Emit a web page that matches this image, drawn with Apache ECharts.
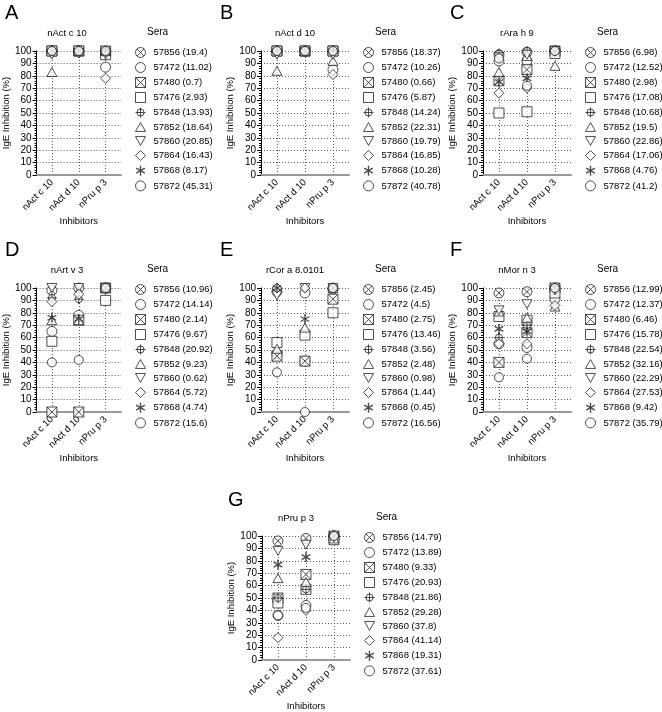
<!DOCTYPE html>
<html lang="en">
<head>
<meta charset="UTF-8">
<title>IgE inhibition</title>
<script src="https://cdn.jsdelivr.net/npm/echarts@6/dist/echarts.min.js"></script>
<style>
  html, body { margin: 0; padding: 0; background: #fff; }
  #main { width: 662px; height: 712px; }
</style>
</head>
<body>
<div id="main"></div>
<script>
// inhibitors on the x axis (same for every panel)
const inhibitors = ['nAct c 10', 'nAct d 10', 'nPru p 3'];
// sera (legend order)
const sera = ['57856', '57472', '57480', '57476', '57848', '57852', '57860', '57864', '57868', '57872'];

const panelLetters = ['A', 'B', 'C', 'D', 'E', 'F', 'G'];
const panelTitles = ['nAct c 10', 'nAct d 10', 'rAra h 9', 'nArt v 3', 'rCor a 8.0101', 'nMor n 3', 'nPru p 3'];

// specific IgE shown in legend brackets, per panel
const igeA = [19.4, 11.02, 0.7, 2.93, 13.93, 18.64, 20.85, 16.43, 8.17, 45.31];
const igeB = [18.37, 10.26, 0.66, 5.87, 14.24, 22.31, 19.79, 16.85, 10.28, 40.78];
const igeC = [6.98, 12.52, 2.98, 17.08, 10.68, 19.5, 22.86, 17.06, 4.76, 41.2];
const igeD = [10.96, 14.14, 2.14, 9.67, 20.92, 9.23, 0.62, 5.72, 4.74, 15.6];
const igeE = [2.45, 4.5, 2.75, 13.46, 3.56, 2.48, 0.98, 1.44, 0.45, 16.56];
const igeF = [12.99, 12.37, 6.46, 15.78, 22.54, 32.16, 22.29, 27.53, 9.42, 35.79];
const igeG = [14.79, 13.89, 9.33, 20.93, 21.86, 29.28, 37.8, 41.14, 19.31, 37.61];

// % inhibition: one row per serum, columns = inhibitors
const valuesA = [[100,100,100],[100,100,87],[100,100,100],[100,100,97],[100,100,100],
                 [83,100,100],[97,98,97],[100,100,78],[100,100,99],[100,100,100]];
const valuesB = [[100,100,100],[100,100,85],[100,100,100],[100,100,100],[100,100,100],
                 [84,100,92],[97,99,97],[100,100,81],[100,100,100],[100,100,100]];
const valuesC = [[97,99,100],[92,92,100],[76,85,100],[50,51,98],[98,100,100],
                 [83,96,88],[95,97,100],[66,70,100],[75,78,100],[94,72,100]];
const valuesD = [[98,100,100],[65,78,100],[0,0,100],[57,74,90],[92,91,100],
                 [74,74,100],[100,100,100],[89,95,100],[76,75,100],[40,42,100]];
const valuesE = [[47,41,100],[97,96,99],[45,41,91],[56,62,80],[100,100,100],
                 [51,68,100],[94,100,100],[100,100,100],[100,75,100],[32,0,100]];
const valuesF = [[96,97,100],[55,52,91],[40,64,100],[77,74,96],[60,70,100],
                 [81,76,85],[82,87,98],[55,55,86],[67,65,100],[28,43,100]];
const valuesG = [[96,98,100],[36,44,100],[50,69,100],[46,57,97],[50,57,100],
                 [66,63,98],[88,93,99],[18,40,100],[77,83,100],[36,42,100]];

const igeAll = [igeA, igeB, igeC, igeD, igeE, igeF, igeG];
const valuesAll = [valuesA, valuesB, valuesC, valuesD, valuesE, valuesF, valuesG];

// layout: y axis x position and top of each plot
const axisX = [33, 261, 483, 33, 261, 483, 262];
const plotTop = [51, 51, 51, 288, 288, 288, 536];
const plotW = 88, plotH = 124;

// symbols drawn in a 9x9 box so the stroke is hardly scaled
const serumSymbols = [
  'path://M4.5,0A4.5,4.5,0,1,1,4.49,0ZM1.3,1.3L7.7,7.7M7.7,1.3L1.3,7.7',
  'path://M4.5,0A4.5,4.5,0,1,1,4.49,0Z',
  'path://M0,0H9V9H0ZM0,0L9,9M9,0L0,9',
  'path://M0,0H9V9H0Z',
  'path://M4.5,1.3A3.2,3.2,0,1,1,4.49,1.3ZM4.5,0V9M0,4.5H9',
  'path://M4.5,0.5L9,8.5L0,8.5Z',
  'path://M0,0.5H9L4.5,8.5Z',
  'path://M4.5,0L9,4.5L4.5,9L0,4.5Z',
  'path://M4.5,0V9M0.6,2.25L8.4,6.75M8.4,2.25L0.6,6.75',
  'path://M4.5,0A4.5,4.5,0,1,1,4.49,0Z'
];
const markStyle = i => ({ color: '#fff', borderColor: '#222', borderWidth: i === 8 ? 1.4 : 1 });

const chart = echarts.init(document.getElementById('main'));

const grid = [], xAxis = [], yAxis = [], legend = [], series = [], graphic = [];
const dotted = { color: '#555', type: [1, 2], width: 1 };

panelTitles.forEach((t, k) => {
  grid.push({ left: axisX[k], top: plotTop[k], width: plotW, height: plotH });
  xAxis.push({
    type: 'value', gridIndex: k, min: 0.43, max: 0.43 + plotW / 28,
    name: 'Inhibitors', nameLocation: 'middle', nameGap: 40,
    nameTextStyle: { fontSize: 9.5, color: '#000' },
    axisLine: { show: true, lineStyle: { color: '#999', width: 2 } },
    axisTick: { show: false, customValues: [1, 2, 3] },
    axisLabel: { customValues: [1, 2, 3], rotate: 45, fontSize: 9.5, color: '#000', margin: 6,
                 formatter: v => inhibitors[Math.round(v) - 1] },
    splitLine: { show: true, lineStyle: dotted }
  });
  yAxis.push({
    type: 'value', gridIndex: k, min: 0, max: 100, interval: 10,
    name: 'IgE Inhibition (%)', nameLocation: 'middle', nameGap: 23,
    nameTextStyle: { fontSize: 9.5, color: '#000' },
    axisLine: { show: true, lineStyle: { color: '#000', width: 1 } },
    axisTick: { show: true, length: 4, lineStyle: { color: '#000' } },
    minorTick: { show: true, splitNumber: 5, length: 2, lineStyle: { color: '#000' } },
    axisLabel: { fontSize: 10, color: '#000', margin: 5 },
    splitLine: { show: true, lineStyle: dotted }
  });

  const names = sera.map((s, i) => s + ' (' + igeAll[k][i] + ')');
  legend.push({
    orient: 'vertical', left: axisX[k] + 102, top: plotTop[k] - 4, padding: 0,
    itemWidth: 10, itemHeight: 10, itemGap: 4, selectedMode: false,
    textStyle: { fontSize: 9.5, color: '#000', padding: [0, 0, 0, 3] },
    data: names.map((n, i) => ({ name: n, itemStyle: markStyle(i) }))
  });

  sera.forEach((s, i) => {
    series.push({
      type: 'scatter', name: names[i], xAxisIndex: k, yAxisIndex: k,
      symbol: serumSymbols[i], symbolSize: i === 9 ? 9 : 10, symbolKeepAspect: true,
      itemStyle: markStyle(i),
      data: valuesAll[k][i].map((v, j) => [j + 1, v])
    });
  });

  graphic.push(
    { type: 'text', x: axisX[k] + 34, y: plotTop[k] - 18,
      style: { text: t, fontSize: 9.5, fill: '#000', align: 'center', verticalAlign: 'middle' } },
    { type: 'text', x: axisX[k] + 114, y: plotTop[k] - 19,
      style: { text: 'Sera', fontSize: 10, fill: '#000', verticalAlign: 'middle' } }
  );
});

// panel letters
const letterPos = [[5, 3], [220, 3], [450, 3], [5, 240], [220, 240], [450, 240], [228, 490]];
panelLetters.forEach((l, k) => {
  graphic.push({ type: 'text', x: letterPos[k][0], y: letterPos[k][1],
    style: { text: l, fontSize: 20, fill: '#000' } });
});

chart.setOption({
  animation: false,
  textStyle: { fontFamily: 'Liberation Sans, Arial, sans-serif' },
  grid, xAxis, yAxis, legend, series, graphic
});
</script>
</body>
</html>
